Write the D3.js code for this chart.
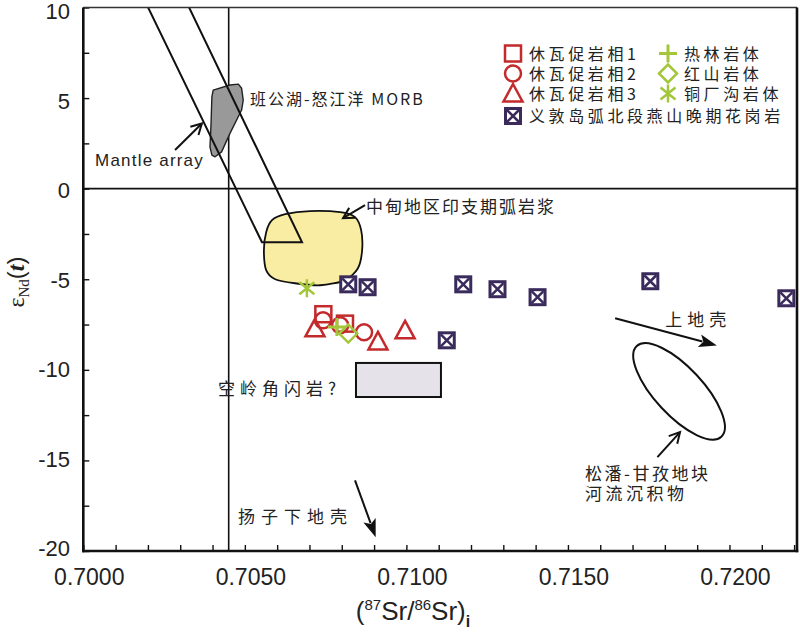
<!DOCTYPE html>
<html><head><meta charset="utf-8">
<script src="https://cdn.jsdelivr.net/npm/d3@7"></script>
<style>body{margin:0;background:#fff}svg{display:block}</style>
</head><body><svg id="c" width="800" height="636"></svg>
<script>
// ---------- data ----------
const xTickValues = [0.7000, 0.7050, 0.7100, 0.7150, 0.7200];
const xTickLabels = ["0.7000", "0.7050", "0.7100", "0.7150", "0.7200"];
const yTickValues = [10, 5, 0, -5, -10, -15, -20];
const yTickLabels = ["10", "5", "0", "-5", "-10", "-15", "-20"];

const xiuwacu1 = [[0.70743, -6.93], [0.70810, -7.45]];
const xiuwacu2 = [[0.70742, -7.27], [0.70795, -7.54], [0.70869, -7.93]];
const xiuwacu3 = [[0.70717, -7.71], [0.70912, -8.43], [0.70996, -7.82]];
const relin = [[0.70785, -7.64]];
const hongshan = [[0.70820, -8.00]];
const tongchanggou = [[0.70692, -5.50]];
const yidun = [[0.70820, -5.28], [0.70880, -5.44], [0.71125, -8.37], [0.71176, -5.28],
               [0.71282, -5.55], [0.71406, -5.99], [0.71755, -5.11], [0.72176, -6.05]];

const morbField = [[0.70402, 5.44], [0.70454, 5.72], [0.70480, 5.77], [0.70490, 5.54], [0.70495, 4.89],
                   [0.70490, 4.34], [0.70454, 3.05], [0.70428, 2.03], [0.70408, 1.76], [0.70398, 1.85],
                   [0.70392, 2.31], [0.70395, 3.41], [0.70398, 5.07]];
const mantleArray = [[0.70187, 10.5], [0.70553, -2.96], [0.70677, -2.96], [0.70314, 10.5]];
const zhongdianField = [[0.70566, -2.40], [0.70584, -1.74], [0.70625, -1.41], [0.70702, -1.24], [0.70795, -1.30],
                        [0.70841, -1.57], [0.70860, -2.29], [0.70863, -3.40], [0.70850, -4.39], [0.70810, -5.06],
                        [0.70733, -5.33], [0.70655, -5.22], [0.70594, -5.00], [0.70566, -4.50], [0.70559, -3.40]];
const konglingBox = [[0.70844, -9.62], [0.71107, -11.50]];
const songpanCenter = [0.71844, -11.19];
const bulkEarthSr = 0.7045;
const churNd = 0;

const legendItems = [
  ["square", "休瓦促岩相1"], ["circle", "休瓦促岩相2"], ["triangle", "休瓦促岩相3"],
  ["plus", "热林岩体"], ["diamond", "红山岩体"], ["asterisk", "铜厂沟岩体"],
  ["boxx", "义敦岛弧北段燕山晚期花岗岩"]
];

// ---------- setup ----------
const RED = "#c32a2c", GREEN = "#a3c63a", PURPLE = "#3a2b5c";
const CJK = "'Noto Sans CJK SC','Noto Sans',sans-serif";
const SANS = "'Liberation Sans',Arial,sans-serif";
const svg = d3.select("#c");
const L = 83.3, R = 797, T = 7.5, B = 551;
const x = d3.scaleLinear().domain([0.7000, 0.72209]).range([L, R]);
const y = d3.scaleLinear().domain([10, -20]).range([T, B]);
const yLab = d3.scaleLinear().domain([10, -20]).range([11, 548]);

svg.append("defs").append("clipPath").attr("id", "plot")
  .append("rect").attr("x", L).attr("y", T).attr("width", R - L).attr("height", B - T);
const plot = svg.append("g").attr("clip-path", "url(#plot)");

// reference lines
plot.append("line").attr("x1", x(bulkEarthSr)).attr("x2", x(bulkEarthSr)).attr("y1", T).attr("y2", B)
  .attr("stroke", "#111").attr("stroke-width", 1.6);
plot.append("line").attr("x1", L).attr("x2", R).attr("y1", y(churNd)).attr("y2", y(churNd))
  .attr("stroke", "#111").attr("stroke-width", 1.6);

// fields
const lineGen = d3.line().x(d => x(d[0])).y(d => y(d[1]));
plot.append("path").attr("d", d3.line().x(d => x(d[0])).y(d => y(d[1])).curve(d3.curveCardinalClosed.tension(0.2))(zhongdianField))
  .attr("fill", "#f8eda2").attr("stroke", "#111").attr("stroke-width", 1.8);
plot.append("path").attr("d", lineGen(morbField) + "Z")
  .attr("fill", "#999").attr("stroke", "#222").attr("stroke-width", 1.4).attr("stroke-linejoin", "round");
plot.append("path").attr("d", lineGen(mantleArray) + "Z")
  .attr("fill", "none").attr("stroke", "#111").attr("stroke-width", 2);
plot.append("rect").attr("x", x(konglingBox[0][0])).attr("y", y(konglingBox[0][1]))
  .attr("width", x(konglingBox[1][0]) - x(konglingBox[0][0])).attr("height", y(konglingBox[1][1]) - y(konglingBox[0][1]))
  .attr("fill", "#e5e3e9").attr("stroke", "#111").attr("stroke-width", 2);
plot.append("ellipse").attr("cx", 0).attr("cy", 0).attr("rx", 62).attr("ry", 24)
  .attr("transform", `translate(${x(songpanCenter[0])},${y(songpanCenter[1])}) rotate(47)`)
  .attr("fill", "none").attr("stroke", "#111").attr("stroke-width", 2);

// arrows
function arrow(from, to, filled) {
  const x1 = x(from[0]), y1 = y(from[1]), x2 = x(to[0]), y2 = y(to[1]);
  const a = Math.atan2(y2 - y1, x2 - x1);
  const g = plot.append("g");
  if (filled) {
    const len = 18, w = 6.5;
    const bx = x2 - len * Math.cos(a), by = y2 - len * Math.sin(a);
    g.append("line").attr("x1", x1).attr("y1", y1).attr("x2", bx + 3 * Math.cos(a)).attr("y2", by + 3 * Math.sin(a))
      .attr("stroke", "#111").attr("stroke-width", 2);
    const nx = -Math.sin(a), ny = Math.cos(a);
    const back = 4;
    g.append("path").attr("d", `M${x2},${y2}L${bx + nx * w},${by + ny * w}L${bx + back * Math.cos(a)},${by + back * Math.sin(a)}L${bx - nx * w},${by - ny * w}Z`)
      .attr("fill", "#111");
  } else {
    g.append("line").attr("x1", x1).attr("y1", y1).attr("x2", x2).attr("y2", y2)
      .attr("stroke", "#111").attr("stroke-width", 2);
    const len = 12, sp = 0.5;
    g.append("path").attr("d", `M${x2 - len * Math.cos(a - sp)},${y2 - len * Math.sin(a - sp)}L${x2},${y2}L${x2 - len * Math.cos(a + sp)},${y2 - len * Math.sin(a + sp)}`)
      .attr("fill", "none").attr("stroke", "#111").attr("stroke-width", 2).attr("stroke-linejoin", "miter");
  }
}
arrow([0.70284, 2.13], [0.70367, 3.60], false);
arrow([0.70872, -0.91], [0.70804, -1.63], false);
arrow([0.71646, -7.15], [0.71961, -8.65], true);
arrow([0.71777, -14.82], [0.71847, -13.44], false);
arrow([0.70841, -16.10], [0.70905, -19.24], true);

// annotation text
function label(p, str, size, spacing, family) {
  svg.append("text").attr("x", x(p[0])).attr("y", y(p[1])).attr("dominant-baseline", "central")
    .attr("font-family", family || CJK).attr("font-size", size).attr("letter-spacing", spacing)
    .attr("fill", "#222").text(str);
}
label([0.70516, 5.0], "班公湖-怒江洋 MORB", 16, 2);
label([0.700365, 1.57], "Mantle array", 17, 1.2, SANS);
label([0.70875, -0.91], "中甸地区印支期弧岩浆", 17, 2);
label([0.70417, -10.97], "空岭角闪岩?", 17, 5);
label([0.70479, -18.04], "扬子下地壳", 17, 6);
label([0.71801, -7.15], "上地壳", 17, 5);
label([0.71553, -15.66], "松潘-甘孜地块", 17, 2.5);
label([0.71553, -16.77], "河流沉积物", 17, 3.5);

// markers
function marker(g, type, cx, cy) {
  const m = g.append("g").attr("transform", `translate(${cx},${cy})`);
  if (type === "square") m.append("rect").attr("x", -8).attr("y", -8).attr("width", 16).attr("height", 16)
    .attr("fill", "none").attr("stroke", RED).attr("stroke-width", 2.5);
  else if (type === "circle") m.append("circle").attr("r", 8).attr("fill", "none").attr("stroke", RED).attr("stroke-width", 2.5);
  else if (type === "triangle") m.append("path").attr("d", "M0,-9.5L9.5,8L-9.5,8Z").attr("fill", "none").attr("stroke", RED).attr("stroke-width", 2.5);
  else if (type === "plus") m.append("path").attr("d", "M-9,0H9M0,-9V9").attr("stroke", GREEN).attr("stroke-width", 3);
  else if (type === "diamond") m.append("path").attr("d", "M0,-9L9,0L0,9L-9,0Z").attr("fill", "none").attr("stroke", GREEN).attr("stroke-width", 2.5);
  else if (type === "asterisk") m.append("path").attr("d", "M0,-9V9M-7.5,-6L7.5,6M-7.5,6L7.5,-6").attr("stroke", GREEN).attr("stroke-width", 2.5);
  else if (type === "boxx") {
    m.append("rect").attr("x", -7.5).attr("y", -7.5).attr("width", 15).attr("height", 15)
      .attr("fill", "#fff").attr("stroke", PURPLE).attr("stroke-width", 3);
    m.append("path").attr("d", "M-6,-6L6,6M-6,6L6,-6").attr("stroke", PURPLE).attr("stroke-width", 2.5);
  }
}
const pts = svg.append("g");
[[yidun, "boxx"], [xiuwacu1, "square"], [xiuwacu2, "circle"], [xiuwacu3, "triangle"],
 [tongchanggou, "asterisk"], [relin, "plus"], [hongshan, "diamond"]].forEach(([arr, t]) => {
  arr.forEach(d => marker(pts, t, x(d[0]), y(d[1])));
});

// axes
const axG = svg.append("g");
const xMinor = d3.range(0, 23).map(i => 0.7 + i * 0.001).filter(v => v <= 0.7220);
const xAxis = d3.axisBottom(x).tickValues(xMinor).tickSize(-6).tickFormat("");
axG.append("g").attr("transform", `translate(0,${B})`).call(xAxis).call(g => g.select(".domain").remove())
  .selectAll("line").attr("stroke", "#111").attr("stroke-width", 1.4);
const yMinor = d3.range(10, -20.1, -2.5);
const yAxis = d3.axisLeft(y).tickValues(yMinor).tickSize(-6).tickFormat("");
axG.append("g").attr("transform", `translate(${L},0)`).call(yAxis).call(g => g.select(".domain").remove())
  .selectAll("line").attr("stroke", "#111").attr("stroke-width", 1.4);

// frame
axG.append("line").attr("x1", L).attr("x2", R).attr("y1", T).attr("y2", T).attr("stroke", "#333").attr("stroke-width", 1.4);
axG.append("line").attr("x1", R).attr("x2", R).attr("y1", T).attr("y2", B + 1.2).attr("stroke", "#111").attr("stroke-width", 2.6);
axG.append("line").attr("x1", L).attr("x2", L).attr("y1", T).attr("y2", B + 1.2).attr("stroke", "#111").attr("stroke-width", 2.6);
axG.append("line").attr("x1", L - 1.3).attr("x2", R + 1.3).attr("y1", B).attr("y2", B).attr("stroke", "#111").attr("stroke-width", 2.6);

// tick labels
xTickValues.forEach((v, i) => {
  svg.append("text").attr("x", x(v) + 6).attr("y", 585).attr("text-anchor", "middle")
    .attr("font-family", SANS).attr("font-size", 23).attr("fill", "#222").text(xTickLabels[i]);
});
yTickValues.forEach((v, i) => {
  svg.append("text").attr("x", 70).attr("y", yLab(v) + 8).attr("text-anchor", "end")
    .attr("font-family", SANS).attr("font-size", 22).attr("fill", "#222").text(yTickLabels[i]);
});

// axis titles
const xt = svg.append("text").attr("x", 413).attr("y", 620).attr("text-anchor", "middle")
  .attr("font-family", SANS).attr("font-size", 26).attr("fill", "#222");
xt.append("tspan").text("(");
xt.append("tspan").attr("font-size", 15).attr("dy", -10).text("87");
xt.append("tspan").attr("dy", 10).text("Sr/");
xt.append("tspan").attr("font-size", 15).attr("dy", -10).text("86");
xt.append("tspan").attr("dy", 10).text("Sr)");
xt.append("tspan").attr("font-size", 16).attr("font-weight", "bold").attr("dy", 7).text("i");

const yt = svg.append("text").attr("transform", "translate(24,282) rotate(-90)").attr("text-anchor", "middle")
  .attr("font-family", "'Liberation Serif','Times New Roman',serif").attr("font-size", 24).attr("fill", "#222");
yt.append("tspan").text("ε");
yt.append("tspan").attr("font-size", 15).attr("dy", 5).text("Nd");
yt.append("tspan").attr("dy", -5).attr("font-family", SANS).text("(");
yt.append("tspan").attr("font-style", "italic").attr("font-weight", "bold").text("t");
yt.append("tspan").attr("font-family", SANS).text(")");

// legend
legendItems.forEach((it, i) => {
  const col = i >= 3 && i <= 5 ? 1 : 0;
  const row = i < 3 ? i : (i <= 5 ? i - 3 : 3);
  const mx = col ? 668 : 513;
  const my = row < 3 ? 53.5 + row * 20 : 116;
  marker(svg, it[0], mx, my);
  svg.append("text").attr("x", mx + 16).attr("y", my + 6).attr("font-family", CJK)
    .attr("font-size", 16).attr("letter-spacing", 3.6).attr("fill", "#222").text(it[1]);
});
</script></body></html>
